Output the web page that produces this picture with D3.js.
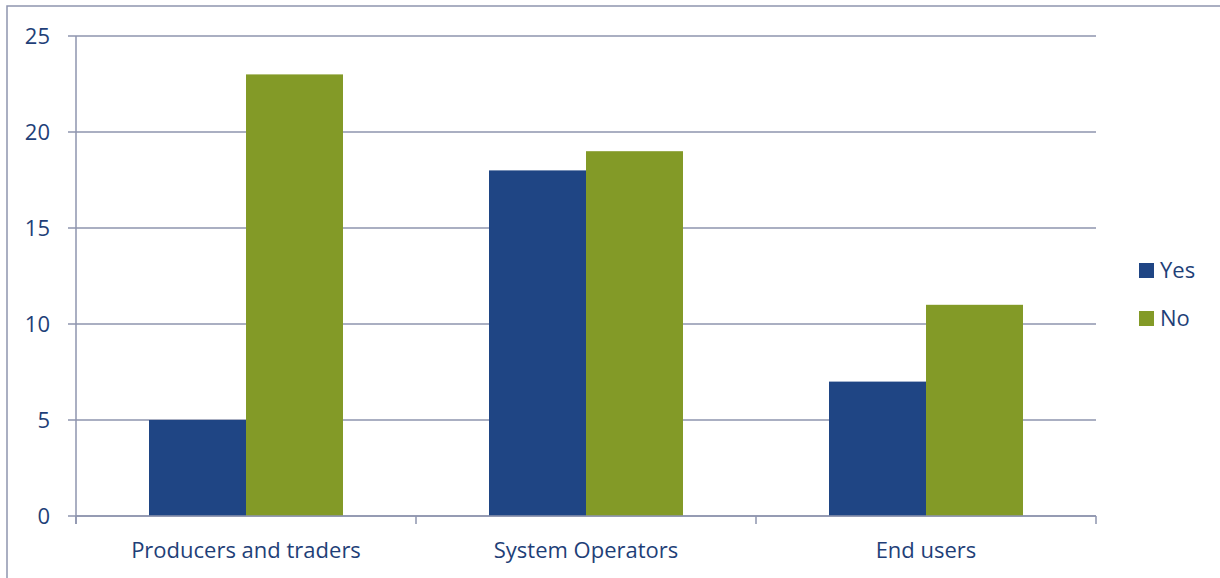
<!DOCTYPE html>
<html><head><meta charset="utf-8">
<script src="https://cdn.jsdelivr.net/npm/d3@7"></script>
<style>body{margin:0;background:#fff}svg{display:block}</style>
</head><body>
<script>
const categories = ["Producers and traders", "System Operators", "End users"];
const seriesNames = ["Yes", "No"];
const yesValues = [5, 18, 7];
const noValues = [23, 19, 11];
const yTicks = [0, 5, 10, 15, 20, 25];

(function () {
const W = 1220, H = 578;
const colors = {Yes: "#1F4584", No: "#839A27"};
const gridColor = "#8E95AE";
const textColor = "#1F3F78";
const font = "'Open Sans', sans-serif";
const fs = 22;

const svg = d3.select("body").append("svg").attr("width", W).attr("height", H);
svg.append("rect").attr("x", 7).attr("y", 6).attr("width", W + 10).attr("height", H + 10)
  .attr("fill", "none").attr("stroke", gridColor).attr("stroke-width", 1.5);

const mLeft = 76, mRight = 1096, mTop = 36, mBottom = 516;
const x = d3.scaleBand().domain(categories).range([mLeft, mRight]);
const y = d3.scaleLinear().domain([0, 25]).range([mBottom, mTop]);
const barW = 97;
const gap = (x.bandwidth() - 2 * barW) / 2;

// gridlines
svg.append("g").selectAll("line").data(yTicks).join("line")
  .attr("x1", mLeft - 8).attr("x2", mRight).attr("y1", d => y(d)).attr("y2", d => y(d))
  .attr("stroke", gridColor).attr("stroke-width", 1.5);

// bars
const data = categories.map((c, i) => ({c, vals: [{s: "Yes", v: yesValues[i]}, {s: "No", v: noValues[i]}]}));
const g = svg.append("g");
data.forEach(d => {
  d.vals.forEach((e, j) => {
    g.append("rect")
      .attr("x", x(d.c) + gap + j * barW)
      .attr("y", y(e.v))
      .attr("width", barW)
      .attr("height", y(0) - y(e.v))
      .attr("fill", colors[e.s]);
  });
});

// y axis
const yAxis = d3.axisLeft(y).tickValues(yTicks).tickSize(0).tickPadding(26);
const ya = svg.append("g").attr("transform", `translate(${mLeft},0)`).call(yAxis);
ya.select(".domain").remove();
ya.selectAll("text").attr("font-family", font).attr("font-size", fs).attr("fill", textColor);
svg.append("line").attr("x1", mLeft).attr("x2", mLeft).attr("y1", mTop).attr("y2", mBottom + 8)
  .attr("stroke", gridColor).attr("stroke-width", 1.5);

// x axis
svg.append("line").attr("x1", mLeft).attr("x2", mRight).attr("y1", mBottom).attr("y2", mBottom)
  .attr("stroke", gridColor).attr("stroke-width", 1.5);
const bounds = categories.map(c => x(c)).concat([mRight]);
svg.append("g").selectAll("line").data(bounds).join("line")
  .attr("x1", d => d).attr("x2", d => d).attr("y1", mBottom).attr("y2", mBottom + 8)
  .attr("stroke", gridColor).attr("stroke-width", 1.5);
svg.append("g").selectAll("text").data(categories).join("text")
  .attr("x", d => x(d) + x.bandwidth() / 2).attr("y", 558)
  .attr("text-anchor", "middle").attr("font-family", font).attr("font-size", fs)
  .attr("fill", textColor).text(d => d);

// legend
const leg = svg.append("g");
seriesNames.forEach((s, i) => {
  const ly = 270 + i * 48;
  leg.append("rect").attr("x", 1139).attr("y", ly - 7).attr("width", 15).attr("height", 15).attr("fill", colors[s]);
  leg.append("text").attr("x", 1160).attr("y", ly + 8).attr("font-family", font).attr("font-size", fs)
    .attr("fill", textColor).text(s);
});
})();
</script>
</body></html>
